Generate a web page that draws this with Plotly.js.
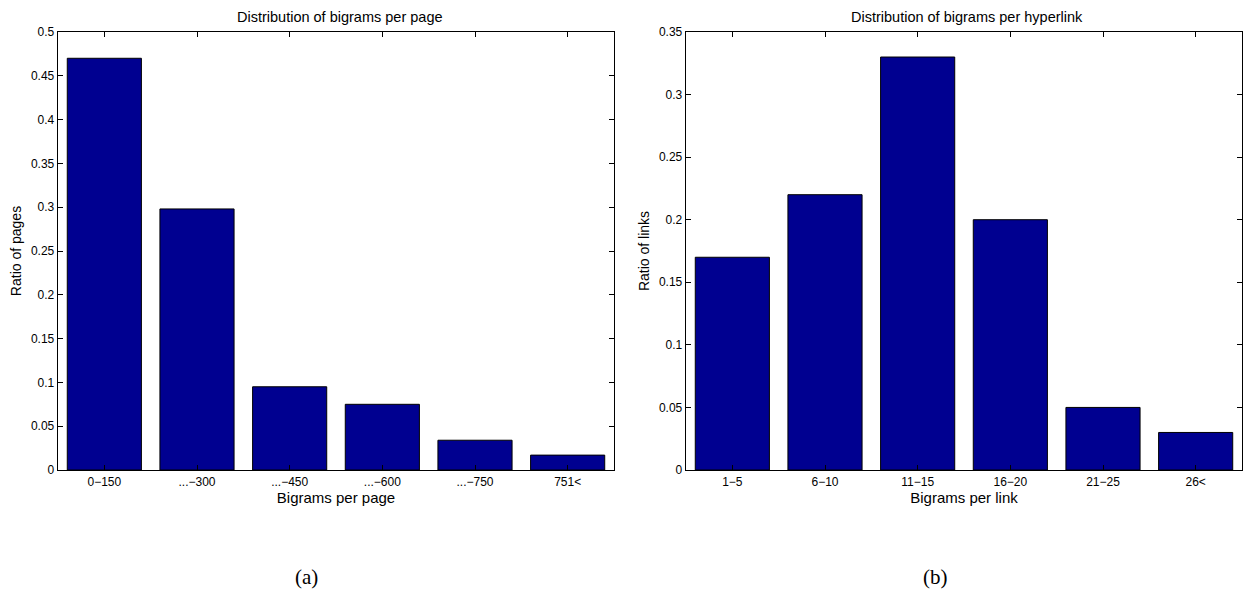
<!DOCTYPE html>
<html>
<head>
<meta charset="utf-8">
<script src="https://cdn.plot.ly/plotly-3.0.1.min.js"></script>
<style>
  html, body { margin: 0; padding: 0; background: #fff; }
  #chart { width: 1244px; height: 590px; }
</style>
</head>
<body>
<div id="chart"></div>
<script>
// Bigrams per page (left panel)
const pageBins = ["0\u2212150", "...\u2212300", "...\u2212450", "...\u2212600", "...\u2212750", "751<"];
const pageRatios = [0.47, 0.298, 0.095, 0.075, 0.034, 0.017];

// Bigrams per hyperlink (right panel)
const linkBins = ["1\u22125", "6\u221210", "11\u221215", "16\u221220", "21\u221225", "26<"];
const linkRatios = [0.17, 0.22, 0.33, 0.20, 0.05, 0.03];

const barColor = "#000090";
const sans = "Liberation Sans, Arial, Helvetica, sans-serif";
const serif = "Liberation Serif, Times New Roman, serif";

const traces = [
  {
    type: "bar", x: pageBins, y: pageRatios, xaxis: "x", yaxis: "y",
    marker: { color: barColor, line: { color: "#000", width: 1 } },
    hoverinfo: "x+y"
  },
  {
    type: "bar", x: linkBins, y: linkRatios, xaxis: "x2", yaxis: "y2",
    marker: { color: barColor, line: { color: "#000", width: 1 } },
    hoverinfo: "x+y"
  }
];

function xAxis(domain, title, anchor) {
  return {
    domain: domain, anchor: anchor, type: "category",
    range: [-0.5, 5.5], fixedrange: true,
    showline: true, linecolor: "#000", linewidth: 1.3, mirror: "ticks",
    ticks: "inside", ticklen: 5, tickcolor: "#000", tickwidth: 1,
    showgrid: false, zeroline: false,
    tickfont: { family: sans, size: 12, color: "#000" },
    title: { text: title, font: { family: sans, size: 15, color: "#000" }, standoff: 1 }
  };
}

function yAxis(domain, title, anchor, top) {
  return {
    domain: domain, anchor: anchor, range: [0, top], dtick: 0.05, tick0: 0,
    fixedrange: true,
    showline: true, linecolor: "#000", linewidth: 1.3, mirror: "ticks",
    ticks: "inside", ticklen: 5, tickcolor: "#000", tickwidth: 1,
    showgrid: false, zeroline: false,
    tickfont: { family: sans, size: 12, color: "#000" },
    title: { text: title, font: { family: sans, size: 14, color: "#000" }, standoff: 6 }
  };
}

const yDom = [1 - 470 / 590, 1 - 32 / 590];

const layout = {
  width: 1244, height: 590,
  margin: { l: 0, r: 0, t: 0, b: 0 },
  paper_bgcolor: "#fff", plot_bgcolor: "#fff",
  showlegend: false, bargap: 0.2,
  xaxis: xAxis([58 / 1244, 614 / 1244], "Bigrams per page", "y"),
  yaxis: yAxis(yDom, "Ratio of pages", "x", 0.5),
  xaxis2: xAxis([686 / 1244, 1242 / 1244], "Bigrams per link", "y2"),
  yaxis2: yAxis(yDom, "Ratio of links", "x2", 0.35),
  annotations: [
    { text: "Distribution of bigrams per page", xref: "paper", yref: "paper",
      x: 340 / 1244, y: 1 - 17 / 590, xanchor: "center", yanchor: "middle",
      showarrow: false, font: { family: sans, size: 14.5, color: "#000" } },
    { text: "Distribution of bigrams per hyperlink", xref: "paper", yref: "paper",
      x: 967 / 1244, y: 1 - 17 / 590, xanchor: "center", yanchor: "middle",
      showarrow: false, font: { family: sans, size: 14.5, color: "#000" } },
    { text: "(a)", xref: "paper", yref: "paper",
      x: 306 / 1244, y: 1 - 577 / 590, xanchor: "center", yanchor: "middle",
      showarrow: false, font: { family: serif, size: 21, color: "#000" } },
    { text: "(b)", xref: "paper", yref: "paper",
      x: 935 / 1244, y: 1 - 577 / 590, xanchor: "center", yanchor: "middle",
      showarrow: false, font: { family: serif, size: 21, color: "#000" } }
  ]
};

Plotly.newPlot("chart", traces, layout, { staticPlot: true, displayModeBar: false });
</script>
</body>
</html>
